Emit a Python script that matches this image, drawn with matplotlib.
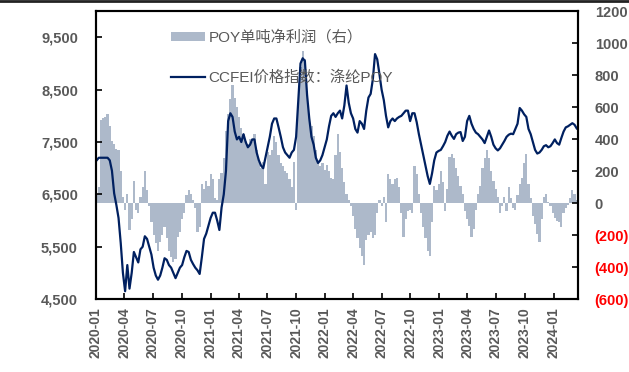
import numpy as np
import pandas as pd
import matplotlib
matplotlib.use("Agg")
import matplotlib.pyplot as plt
import matplotlib.dates as mdates
from matplotlib.lines import Line2D
from matplotlib.ticker import FuncFormatter

plt.rcParams['font.family'] = ['Liberation Sans', 'Noto Sans CJK SC']

# weekly series, Fridays from 2020-01-03
dates = pd.date_range('2020-01-03', periods=220, freq='7D')

# CCFEI price index, polyester POY (left axis)
price = [
    7150, 7200, 7200, 7200, 7200, 7200, 7150, 6950, 6520, 6300,
    6050, 5570, 5000, 4650, 5150, 4700, 5000, 5400, 5300, 5200,
    5450, 5500, 5700, 5650, 5500, 5350, 5100, 4950, 4870, 4950,
    5100, 5280, 5250, 5150, 5100, 5000, 4900, 5000, 5100, 5150,
    5300, 5420, 5400, 5250, 5170, 5100, 5050, 4980, 5300, 5650,
    5750, 5900, 6050, 6150, 6150, 6000, 5820, 6250, 6500, 6950,
    7900, 8050, 7980, 7700, 7550, 7600, 7500, 7650, 7500, 7400,
    7450, 7550, 7550, 7300, 7150, 7050, 7000, 7200, 7400, 7600,
    7850, 7950, 7950, 7780, 7600, 7400, 7300, 7250, 7200, 7300,
    7350, 7600, 8300, 9000, 9100, 9050, 8400, 7950, 7600, 7450,
    7200, 7100, 7150, 7250, 7400, 7550, 7800, 8000, 8050, 7980,
    8050, 8100, 7950, 8200, 8580, 8250, 8050, 7950, 7750, 7680,
    7900, 7850, 7750, 8100, 8350, 8420, 8700, 9180, 9080, 8800,
    8500, 8300, 8000, 7780, 7900, 7950, 7900, 7950, 7980, 8000,
    8050, 8100, 8100, 7900, 8050, 8050, 7880, 7650, 7450, 7250,
    7050, 6850, 6700, 6900, 7150, 7300, 7330, 7350, 7420, 7500,
    7620, 7700, 7620, 7560, 7650, 7680, 7690, 7520, 7600, 7900,
    8000, 7850, 7750, 7680, 7650, 7600, 7550, 7480, 7600, 7720,
    7600, 7450, 7380, 7340, 7380, 7450, 7520, 7600, 7640, 7660,
    7650, 7750, 7850, 8150, 8100, 8030, 7980, 7750, 7650, 7500,
    7350, 7280, 7300, 7350, 7420, 7440, 7400, 7420, 7480, 7550,
    7480, 7450, 7580, 7700, 7780, 7800, 7830, 7860, 7830, 7760,
]

# POY net profit per tonne (right axis)
profit = [
    60, 100, 520, 530, 540, 560, 480, 390, 370, 340,
    330, 200, 40, -40, 60, -170, -100, 140, -40, -60,
    40, 100, 200, 80, -20, -120, -200, -250, -300, -240,
    -200, -150, -220, -300, -340, -370, -350, -210, -180, -100,
    -60, 50, 80, 60, 20, -30, -180, -150, 120, 90,
    140, 110, 180, 150, 30, 20, 150, 190, 280, 450,
    560, 650, 740, 660, 600, 540, 470, 430, 390, 370,
    400, 380, 430, 330, 260, 220, 260, 120, 320, 300,
    330, 420, 380, 300, 250, 230, 200, 190, 150, 100,
    260, -40, 620, 850, 950, 900, 700, 560, 480, 420,
    330, 260, 230, 250, 210, 240, 200, 160, 150, 300,
    430, 320, 220, 130, 60, 20, -20, -80, -160, -220,
    -280, -330, -390, -230, -200, -180, -220, -200, -60, 20,
    -20, 40, -120, 180, 150, 120, 150, 160, 100, -60,
    -210, -100, -50, -40, -60, 230, 180, 60, -60, -150,
    -220, -300, -330, -120, 110, 80, 120, 200, 130, -50,
    90, 290, 310, 280, 220, 170, 110, 60, -50, -100,
    -140, -210, -160, -40, 60, 110, 220, 280, 330, 280,
    200, 140, 90, 40, -60, -20, 40, -50, 100, 30,
    -30, -40, 50, 120, 160, 250, 310, 120, 30, -80,
    -130, -190, -240, -100, 40, 60, 10, -20, -60, -90,
    -110, -120, -150, -60, -30, -10, 30, 80, 60, 20,
]

bar_color = '#ADB9CA'
line_color = '#002060'
text_color = '#595959'
right_ticks = np.arange(-600, 1201, 200)

fig = plt.figure(figsize=(6.29, 3.72), dpi=100)
ax = fig.add_axes([0.1526, 0.196, 0.7663, 0.774])

# profit bars on the base axes
bars = ax.bar(dates, profit, width=7, color=bar_color, linewidth=0,
              label='POY单吨净利润（右）')
ax.set_ylim(-600, 1200)
ax.set_yticks(right_ticks)
ax.yaxis.set_major_formatter(FuncFormatter(
    lambda v, p: f'({abs(int(v))})' if v < 0 else f'{int(v)}'))

# price line on the twin axes
ax2 = ax.twinx()
line, = ax2.plot(dates, price, color=line_color, lw=1.6,
                 label='CCFEI价格指数：涤纶POY')
ax2.set_ylim(4500, 10000)
ax2.set_yticks(np.arange(4500, 9501, 1000))
ax2.yaxis.set_major_formatter(FuncFormatter(lambda v, p: f'{int(v):,}'))

# swap sides: price scale on the left, profit scale on the right
ax.yaxis.tick_right()
ax2.yaxis.tick_left()

ax.set_xlim(pd.Timestamp('2020-01-01'), pd.Timestamp('2024-03-19'))
ax.xaxis.set_major_locator(mdates.MonthLocator(bymonth=[1, 4, 7, 10]))
ax.xaxis.set_major_formatter(mdates.DateFormatter('%Y-%m'))
for lab in ax.get_xticklabels():
    lab.set_rotation(90)

for a in (ax, ax2):
    a.tick_params(direction='in', length=4, width=1.2,
                  colors='black', labelcolor=text_color)
    for s in a.spines.values():
        s.set_linewidth(1.5)
        s.set_color('black')
ax.tick_params(axis='x', pad=6, labelsize=10)
ax.tick_params(axis='y', pad=12, labelsize=10.5)
ax2.tick_params(axis='y', pad=13, labelsize=10.5)
for lab in ax.get_yticklabels() + ax2.get_yticklabels() + ax.get_xticklabels():
    lab.set_fontweight('bold')
for lab, v in zip(ax.get_yticklabels(), right_ticks):
    lab.set_color('red' if v < 0 else text_color)

leg = ax2.legend(handles=[bars, line], loc='upper left',
                 bbox_to_anchor=(0.155, 0.935), frameon=False,
                 borderpad=0, borderaxespad=0, handlelength=2.22,
                 handleheight=0.55, handletextpad=0.26, labelspacing=1.66,
                 prop={'family': ['Liberation Sans', 'Noto Sans CJK SC'],
                       'size': 11})
for t in leg.get_texts():
    t.set_color(text_color)

fig.add_artist(Line2D([0, 1], [0.998, 0.998], transform=fig.transFigure,
                      color='#222222', lw=2))

fig.savefig('out.png', dpi=100)
